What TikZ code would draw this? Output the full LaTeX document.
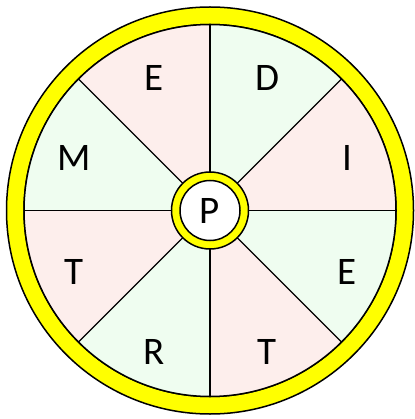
\documentclass[tikz,border=0pt]{standalone}
\usepackage{fontspec}
\setmainfont{Carlito}
\usetikzlibrary{calc}
\definecolor{pinkfill}{RGB}{253,238,236}
\definecolor{greenfill}{RGB}{239,253,240}
\definecolor{ringyellow}{RGB}{255,255,0}
\begin{document}
\begin{tikzpicture}[x=1pt,y=-1pt,
  letter/.style={font=\fontsize{39}{39}\selectfont, inner sep=0pt},
  spoke/.style={draw=black, line width=1.1pt},
  ring/.style={draw=black, line width=1.5pt, fill=ringyellow}]
\useasboundingbox (0,0) rectangle (414,419);
\coordinate (c) at (210,210.5);
% outer ring
\fill[ring, even odd rule] (c) circle (203.5) (c) circle (186);
% sectors (angles in screen orientation, y down)
\foreach \a/\col in {0/greenfill,45/pinkfill,90/greenfill,135/pinkfill,180/greenfill,225/pinkfill,270/greenfill,315/pinkfill}{
  \fill[\col] (c) -- ++(\a:186) arc[start angle=\a, end angle=\a+45, radius=186] -- cycle;
}
\draw[black, line width=1.5pt] (c) circle (186);
\foreach \a in {0,45,...,315}{
  \draw[spoke] ($(c)+(\a:38)$) -- ($(c)+(\a:186)$);
}
% center ring
\draw[ring] (c) circle (38.5);
\draw[black, line width=1.5pt, fill=white] (c) circle (30);
\node[letter] (p) at (c) {P};
\node[letter] (e1) at (154,78) {E};
\node[letter] (d) at (267,78) {D};
\node[letter] (m) at (74,158) {M};
\node[letter] (i) at (347,158) {I};
\node[letter] (t1) at (74,272) {T};
\node[letter] (e2) at (347,272) {E};
\node[letter] (r) at (154,352) {R};
\node[letter] (t2) at (267,352) {T};
\end{tikzpicture}
\end{document}
